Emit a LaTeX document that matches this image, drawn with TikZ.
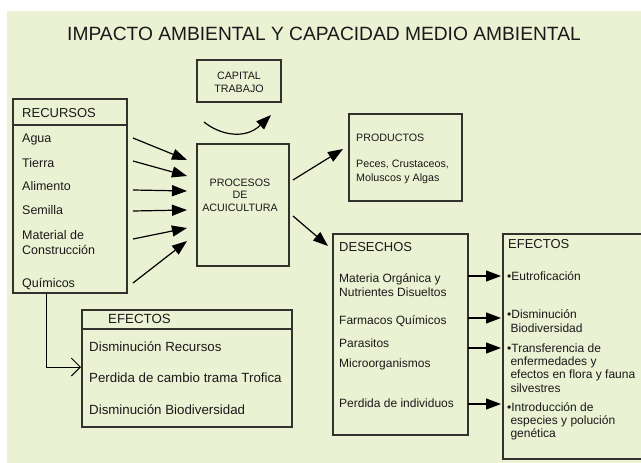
\documentclass[tikz,border=0pt]{standalone}
\usepackage{fontspec}
\setmainfont{Liberation Sans}
\usetikzlibrary{arrows.meta,calc}
\definecolor{fondo}{RGB}{235,242,211}
\definecolor{trazo}{RGB}{50,50,45}
\newcommand{\fs}[2]{\fontsize{#1}{#2}\selectfont}

\begin{document}
\begin{tikzpicture}[x=1pt,y=-1pt,
    caja/.style={draw=trazo,line width=1.3pt,anchor=north west,inner sep=0pt,outer sep=0pt},
    linea/.style={draw=trazo,line width=1.3pt},
    txt/.style={anchor=base west,inner sep=0pt,align=left,text=black!90,font=\fs{12.5}{15}},
    chico/.style={txt,font=\fs{12}{14}},
    flecha/.style={line width=1.2pt,-{Triangle[length=15pt,width=11pt]}},
    gancho/.style={line width=1pt,-{Straight Barb[length=9pt,width=18pt]}}]
  \useasboundingbox (0,0) rectangle (641,463);
  \fill[fondo] (7,11) rectangle (641,463);
  \clip (0,0) rectangle (641,463);
  \node[txt,anchor=base,font=\fs{19.2}{21}] (titulo) at (324,40.5) {IMPACTO AMBIENTAL Y CAPACIDAD MEDIO AMBIENTAL};

  % capital y procesos
  \node[caja,minimum width=84pt,minimum height=42pt] (cap) at (197,60) {};
  \node[txt,anchor=base,align=center,font=\fs{10.7}{13}] (captxt) at (239,92) {CAPITAL\\TRABAJO};
  \coordinate (c1) at ($(cap.south west)+(7,20)$);
  \coordinate (c2) at ($(cap.south east)+(-10,13)$);
  \draw[flecha] (c1) .. controls (220,135) and (245,140) .. (c2);
  \node[caja,minimum width=92pt,minimum height=122pt] (proc) at (197,144) {};
  \node[txt,anchor=base,align=center,font=\fs{10.7}{12.5}] (proctxt) at (240,211) {PROCESOS\\DE\\ACUICULTURA};

  % recursos
  \node[caja,minimum width=114pt,minimum height=194pt] (rec) at (13,99) {};
  \draw[linea] ($(rec.north west)+(0,26)$) -- ($(rec.north east)+(0,26)$);
  \node[txt,font=\fs{13}{15}] (rectit) at (22,117) {RECURSOS};
  \node[txt] (agua) at (22,142.5) {Agua};
  \node[txt] (tierra) at (22,167) {Tierra};
  \node[txt] (alim) at (22,190.5) {Alimento};
  \node[txt] (sem) at (22,214.5) {Semilla};
  \node[txt] (mat) at (22,254) {Material de\\Construcción};
  \node[txt] (quim) at (22,287.5) {Químicos};
  \foreach \ya/\yb in {138/160,161/176,190/191,211/210,239/228,283/241}
    \draw[flecha] ($(rec.east |- 0,\ya)+(6,0)$) -- ($(proc.west |- 0,\yb)+(-10,0)$);

  % efectos de los recursos
  \node[caja,minimum width=210pt,minimum height=117pt] (efr) at (82,310) {};
  \draw[linea] ($(efr.north west)+(0,19)$) -- ($(efr.north east)+(0,19)$);
  \node[txt,font=\fs{13.3}{15}] (efrtit) at (108,323) {EFECTOS};
  \node[txt,font=\fs{13.3}{15}] (efr1) at (89,351.5) {Disminución Recursos};
  \node[txt,font=\fs{13.3}{15}] (efr2) at (89,382.5) {Perdida de cambio trama Trofica};
  \node[txt,font=\fs{13.3}{15}] (efr3) at (89,414.5) {Disminución Biodiversidad};
  \draw[gancho] ($(rec.south west)+(33,0)$) |- ($(efr.west |- 0,367)+(-1,0)$);

  % productos
  \node[caja,minimum width=113pt,minimum height=87pt] (prod) at (349,114) {};
  \node[txt,font=\fs{10.7}{13}] (prodtit) at (356,141) {PRODUCTOS};
  \node[txt,font=\fs{10.7}{14}] (prodtxt) at (356,181) {Peces, Crustaceos,\\Moluscos y Algas};
  \draw[flecha] ($(proc.north east)+(4,36)$) -- ($(prod.west)+(-6,-8.5)$);

  % desechos
  \node[caja,minimum width=135pt,minimum height=201pt] (des) at (333,234) {};
  \node[txt,font=\fs{13}{15}] (destit) at (339,251.5) {DESECHOS};
  \node[chico] (des1) at (339,296) {Materia Orgánica y\\Nutrientes Disueltos};
  \node[chico] (des2) at (339,324) {Farmacos Químicos};
  \node[chico,font=\fs{12}{20}] (des3) at (339,367) {Parasitos\\Microorganismos};
  \node[chico] (des4) at (339,407) {Perdida de individuos};
  \draw[flecha] ($(proc.north east)+(4,72)$) -- ($(des.north west)+(-5,12)$);

  % efectos de los desechos
  \node[caja,minimum width=150pt,minimum height=225pt] (efd) at (503,234) {};
  \node[txt,font=\fs{13}{15}] (efdtit) at (508,248.5) {EFECTOS};
  \node[chico] (efd1) at (507,280) {•Eutroficación};
  \node[chico] (efd2) at (507,332) {•Disminución\\\ Biodiversidad};
  \node[chico,font=\fs{12}{13.3}] (efd3) at (507,392) {•Transferencia de\\\ enfermedades y\\\ efectos en flora y fauna\\\ silvestres};
  \node[chico,font=\fs{12}{13}] (efd4) at (507,437) {•Introducción de\\\ especies y polución\\\ genética};
  \foreach \y in {276,318,348,404}
    \draw[flecha] (des.east |- 0,\y) -- ($(efd.west |- 0,\y)+(-2,0)$);
\end{tikzpicture}
\end{document}
